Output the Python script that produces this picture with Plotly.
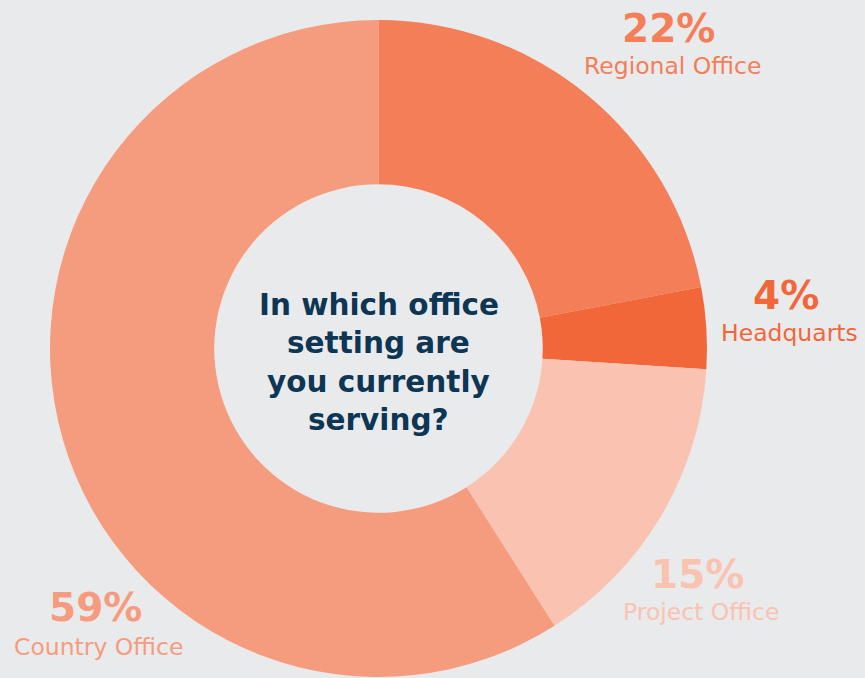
import plotly.graph_objects as go

# Survey responses: office setting
categories = ["Regional Office", "Headquarts", "Project Office", "Country Office"]
shares = [22, 4, 15, 59]
colors = ["#f47e58", "#f26739", "#fac2b0", "#f69c7e"]

W, H = 865, 678
BG = "#e9eaec"
FONT = "DejaVu Sans"

# Pie placement in pixels (centre and radius)
cx, cy, r = 378.5, 348.5, 328.5

fig = go.Figure(
    go.Pie(
        labels=categories,
        values=shares,
        hole=0.5,
        sort=False,
        direction="clockwise",
        rotation=0,
        marker=dict(colors=colors, line=dict(width=0)),
        textinfo="none",
        hoverinfo="label+percent",
        showlegend=False,
        domain=dict(
            x=[(cx - r) / W, (cx + r) / W],
            y=[(H - cy - r) / H, (H - cy + r) / H],
        ),
    )
)

def px(x, y):
    return x / W, 1 - y / H

# Outer labels in pixels: (percentage x, percentage y, name x, name y)
label_pos = {
    "Regional Office": (668, 28, 672, 66),
    "Headquarts": (786, 296, 789, 333),
    "Project Office": (697, 574, 701, 612),
    "Country Office": (95, 607, 98.5, 647),
}

annotations = []
for cat, val, col in zip(categories, shares, colors):
    xp, yp, xn, yn = label_pos[cat]
    ax, ay = px(xp, yp)
    annotations.append(dict(
        x=ax, y=ay, xref="paper", yref="paper", showarrow=False,
        text=f"<b>{val}%</b>", xanchor="center", yanchor="middle",
        font=dict(family=FONT, size=39, color=col),
    ))
    ax, ay = px(xn, yn)
    annotations.append(dict(
        x=ax, y=ay, xref="paper", yref="paper", showarrow=False,
        text=cat, xanchor="center", yanchor="middle",
        font=dict(family=FONT, size=23.5, color=col),
    ))

question = ["In which office", "setting are", "you currently", "serving?"]
for i, line in enumerate(question):
    ax, ay = px(cx, 305 + i * 38.5)
    annotations.append(dict(
        x=ax, y=ay, xref="paper", yref="paper", showarrow=False,
        text=f"<b>{line}</b>", xanchor="center", yanchor="middle",
        font=dict(family=FONT, size=29.5, color="#0d3654"),
    ))

fig.update_layout(
    width=W, height=H,
    margin=dict(l=0, r=0, t=0, b=0),
    paper_bgcolor=BG, plot_bgcolor=BG,
    annotations=annotations,
)

fig.write_html("out.html")
